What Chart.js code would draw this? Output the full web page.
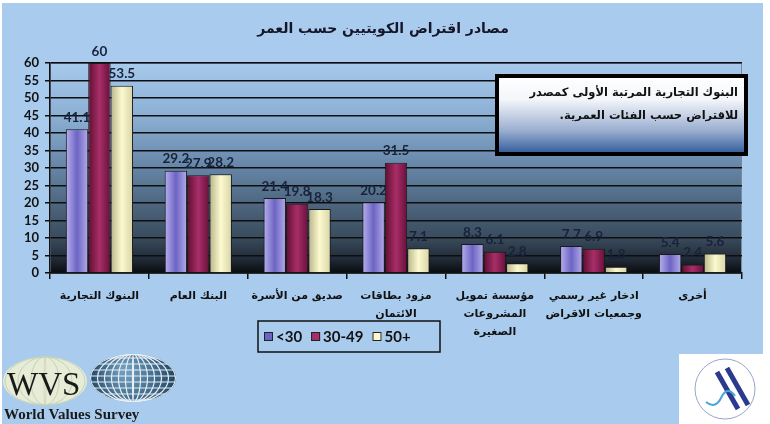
<!DOCTYPE html>
<html><head><meta charset="utf-8">
<script src="https://cdn.jsdelivr.net/npm/chart.js@4.4.1/dist/chart.umd.min.js"></script>
<style>html,body{margin:0;padding:0;background:#fff}canvas{display:block}</style>
</head><body>
<canvas id="c" width="770" height="424"></canvas>
<script>
const titleText = 'مصادر اقتراض الكويتيين حسب العمر';
const noteLines = ['البنوك التجارية المرتبة الأولى كمصدر', 'للاقتراض حسب الفئات العمرية.'];
const categories = [
  'البنوك التجارية',
  'البنك العام',
  'صديق من الأسرة',
  ['مزود بطاقات', 'الائتمان'],
  ['مؤسسة تمويل', 'المشروعات', 'الصغيرة'],
  ['ادخار غير رسمي', 'وجمعيات الاقراض'],
  'أخرى'
];
const seriesNames = ['<30', '30-49', '50+'];
const under30 = [41.1, 29.2, 21.4, 20.2, 8.3, 7.7, 5.4];
const age30to49 = [60, 27.9, 19.8, 31.5, 6.1, 6.9, 2.4];
const over50 = [53.5, 28.2, 18.3, 7.1, 2.8, 1.8, 5.6];
const yTicks = [0, 5, 10, 15, 20, 25, 30, 35, 40, 45, 50, 55, 60];

const barStops = [
  ['#b8b0ee', '#6c64c2', '#b4acea'],
  ['#5e0e30', '#a82e68', '#66103a'],
  ['#b8b48a', '#fcf9ce', '#d8d4a8']
];
const CAT_PCT = 0.68;

function barFill(ds) {
  return function (c) {
    const chart = c.chart;
    const x = chart.scales.x;
    const s = barStops[ds];
    if (!x || c.type !== 'data' || !chart.chartArea) return s[1];
    const n = chart.data.labels.length;
    const catW = x.width / n;
    const groupW = catW * CAT_PCT;
    const bw = groupW / 3;
    const left = x.getPixelForValue(c.dataIndex) - groupW / 2 + bw * ds;
    const g = chart.ctx.createLinearGradient(left, 0, left + bw, 0);
    g.addColorStop(0, s[0]);
    g.addColorStop(0.5, s[1]);
    g.addColorStop(1, s[2]);
    return g;
  };
}

const bgPlugin = {
  id: 'bg',
  beforeDraw(chart) {
    const ctx = chart.ctx;
    const a = chart.chartArea;
    ctx.save();
    ctx.fillStyle = '#ffffff';
    ctx.fillRect(0, 0, chart.width, chart.height);
    ctx.fillStyle = '#a9ccee';
    ctx.fillRect(2, 3, 761, 421);
    const g = ctx.createLinearGradient(0, a.top, 0, a.bottom);
    g.addColorStop(0, '#a6c9ec');
    g.addColorStop(0.25, '#8cb0d4');
    g.addColorStop(0.5, '#6585a6');
    g.addColorStop(0.7, '#4a6178');
    g.addColorStop(0.83, '#3a4c5e');
    g.addColorStop(0.93, '#222c38');
    g.addColorStop(1, '#0a0c10');
    ctx.fillStyle = g;
    ctx.fillRect(a.left, a.top, a.right - a.left, a.bottom - a.top);
    ctx.strokeStyle = '#7a8a9a';
    ctx.lineWidth = 1;
    ctx.strokeRect(a.left + 0.5, a.top + 0.5, a.right - a.left - 1, a.bottom - a.top);
    ctx.restore();
  }
};

const labelPlugin = {
  id: 'vals',
  afterDatasetsDraw(chart) {
    const ctx = chart.ctx;
    ctx.save();
    ctx.font = 'bold 13.5px Lato';
    ctx.fillStyle = '#18223a';
    ctx.textAlign = 'center';
    ctx.textBaseline = 'bottom';
    chart.data.datasets.forEach((d, di) => {
      chart.getDatasetMeta(di).data.forEach((el, i) => {
        ctx.fillText(String(d.data[i]), el.x, el.y - 5);
      });
    });
    ctx.restore();
  }
};

const decoPlugin = {
  id: 'deco',
  afterDraw(chart) {
    const ctx = chart.ctx;
    ctx.save();
    // title
    ctx.direction = 'rtl';
    ctx.font = 'bold 14px "DejaVu Sans"';
    ctx.fillStyle = '#161628';
    ctx.textAlign = 'center';
    ctx.textBaseline = 'middle';
    ctx.fillText(titleText, 383, 29);

    // note box
    const bx = 497, by = 76, bw = 249, bh = 78;
    const ng = ctx.createLinearGradient(0, by, 0, by + bh);
    ng.addColorStop(0, '#ffffff');
    ng.addColorStop(0.3, '#f4f6fa');
    ng.addColorStop(0.7, '#9aaed0');
    ng.addColorStop(1, '#2e5a9a');
    ctx.fillStyle = ng;
    ctx.fillRect(bx, by, bw, bh);
    ctx.strokeStyle = '#000';
    ctx.lineWidth = 4;
    ctx.strokeRect(bx, by, bw, bh);
    ctx.font = 'bold 11.5px "DejaVu Sans"';
    ctx.fillStyle = '#111';
    ctx.textAlign = 'right';
    ctx.fillText(noteLines[0], 738, 93);
    ctx.fillText(noteLines[1], 738, 116);

    // legend
    ctx.direction = 'ltr';
    ctx.fillStyle = '#a9ccee';
    ctx.fillRect(258, 321, 182, 31);
    ctx.strokeStyle = '#111';
    ctx.lineWidth = 1.5;
    ctx.strokeRect(258, 321, 182, 31);
    ctx.font = 'bold 15px Lato';
    ctx.textAlign = 'left';
    ctx.textBaseline = 'middle';
    let lx = 264;
    chart.data.datasets.forEach((d, i) => {
      ctx.fillStyle = barStops[i][1];
      ctx.fillRect(lx, 332, 9, 9);
      ctx.strokeStyle = '#222';
      ctx.lineWidth = 1;
      ctx.strokeRect(lx + 0.5, 332.5, 8, 8);
      ctx.fillStyle = '#111';
      ctx.fillText(d.label, lx + 12, 337);
      lx += 12 + ctx.measureText(d.label).width + 9;
    });

    // WVS logo
    ctx.fillStyle = '#e6ecd6';
    ctx.beginPath(); ctx.ellipse(45, 381, 42, 24, 0, 0, Math.PI * 2); ctx.fill();
    ctx.strokeStyle = '#c8d2b8'; ctx.lineWidth = 0.7;
    for (let k = -3; k <= 3; k++) { ctx.beginPath(); ctx.ellipse(45, 381, Math.abs(k) * 13 + 1, 24, 0, 0, Math.PI * 2); ctx.stroke(); }
    const gg = ctx.createRadialGradient(125, 370, 5, 133, 378, 46);
    gg.addColorStop(0, '#6d9abb'); gg.addColorStop(1, '#1b3f5e');
    ctx.fillStyle = gg;
    ctx.beginPath(); ctx.ellipse(133, 378, 43, 24, 0, 0, Math.PI * 2); ctx.fill();
    ctx.save();
    ctx.beginPath(); ctx.ellipse(133, 378, 43, 24, 0, 0, Math.PI * 2); ctx.clip();
    ctx.strokeStyle = '#e8f0f6'; ctx.lineWidth = 1.2;
    for (let yy = 358; yy <= 400; yy += 6) { ctx.beginPath(); ctx.moveTo(88, yy); ctx.lineTo(178, yy); ctx.stroke(); }
    for (let k = 0; k <= 6; k++) { ctx.beginPath(); ctx.ellipse(133, 378, k * 7 + 0.5, 24, 0, 0, Math.PI * 2); ctx.stroke(); }
    ctx.restore();
    ctx.fillStyle = '#1a1a1a';
    ctx.font = '33px "Liberation Serif"';
    ctx.textBaseline = 'alphabetic';
    ctx.fillText('WVS', 7, 395);
    ctx.font = 'bold 15px "Liberation Serif"';
    ctx.fillText('World Values Survey', 4, 419);

    // right logo
    ctx.fillStyle = '#ffffff';
    ctx.fillRect(679, 354, 91, 70);
    ctx.strokeStyle = '#9aa4c8'; ctx.lineWidth = 1;
    ctx.beginPath(); ctx.arc(725, 389, 30, 0, Math.PI * 2); ctx.stroke();
    ctx.strokeStyle = '#2a3a8e'; ctx.lineWidth = 5;
    ctx.beginPath(); ctx.moveTo(717, 372); ctx.lineTo(738, 409); ctx.stroke();
    ctx.beginPath(); ctx.moveTo(727, 368); ctx.lineTo(748, 405); ctx.stroke();
    ctx.strokeStyle = '#4aa6d8'; ctx.lineWidth = 2;
    ctx.beginPath(); ctx.moveTo(706, 402); ctx.quadraticCurveTo(716, 410, 722, 396); ctx.quadraticCurveTo(728, 386, 735, 396); ctx.stroke();
    ctx.restore();
  }
};

new Chart(document.getElementById('c'), {
  type: 'bar',
  data: {
    labels: categories,
    datasets: [under30, age30to49, over50].map((d, i) => ({
      label: seriesNames[i],
      data: d,
      backgroundColor: barFill(i),
      borderColor: '#1a1a1a',
      borderWidth: 1,
      categoryPercentage: CAT_PCT,
      barPercentage: 1.0
    }))
  },
  options: {
    responsive: false,
    animation: false,
    devicePixelRatio: 1,
    layout: { padding: { left: 0, right: 28, top: 63, bottom: 30 } },
    plugins: { legend: { display: false }, title: { display: false }, tooltip: { enabled: false } },
    scales: {
      x: {
        offset: true,
        grid: { display: true, drawOnChartArea: false, offset: true, color: '#111', lineWidth: 1.5, tickLength: 6 },
        border: { display: true, color: '#111', width: 1.5 },
        ticks: { font: { family: 'DejaVu Sans', weight: 'bold', size: 11, lineHeight: 1.65 }, color: '#111', padding: 8, maxRotation: 0, autoSkip: false },
        afterFit: s => { s.height = 424 - 273 - 30; }
      },
      y: {
        min: 0, max: 60,
        afterBuildTicks: s => { s.ticks = yTicks.map(v => ({ value: v })); },
        grid: { color: '#0c0e12', lineWidth: 1.5, tickLength: 5 },
        border: { display: true, color: '#111', width: 1.5 },
        ticks: { stepSize: 5, autoSkip: false, font: { family: 'Lato', weight: 'bold', size: 13 }, color: '#111', padding: 6 },
        afterFit: s => { s.width = 50; }
      }
    }
  },
  plugins: [bgPlugin, labelPlugin, decoPlugin]
});
</script>
</body></html>
